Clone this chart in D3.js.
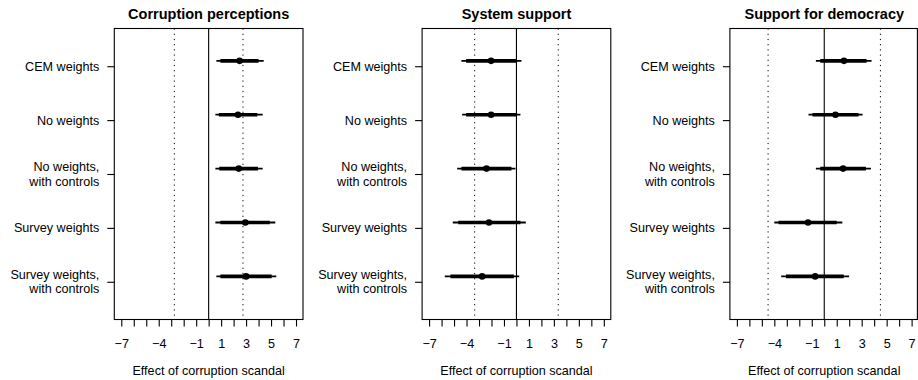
<!DOCTYPE html>
<html>
<head>
<meta charset="utf-8">
<script src="https://cdn.jsdelivr.net/npm/d3@7"></script>
<style>
  html, body { margin: 0; padding: 0; background: #fff; }
  svg { display: block; font-family: "Liberation Sans", Arial, Helvetica, sans-serif; }
</style>
</head>
<body>
<svg id="chart" width="918" height="380"></svg>
<script>
// ---- data ----
const categories = ["CEM weights", "No weights", "No weights,\nwith controls", "Survey weights", "Survey weights,\nwith controls"];
const panelTitles = ["Corruption perceptions", "System support", "Support for democracy"];
const refLines = [2.75, 3.35, 4.5];            // dotted reference lines at ± value
const xTicks = [-7, -6, -5, -4, -3, -2, -1, 0, 1, 2, 3, 4, 5, 6, 7];
const xTickLabels = [-7, -4, -1, 1, 3, 5, 7];
const xAxisTitle = "Effect of corruption scandal";

const corruptionEst  = [2.48, 2.35, 2.41, 2.94, 3.00];
const corruptionLo90 = [0.94, 0.82, 0.85, 0.94, 0.94];
const corruptionHi90 = [4.00, 3.90, 3.95, 4.90, 5.05];
const corruptionLo95 = [0.62, 0.54, 0.54, 0.54, 0.62];
const corruptionHi95 = [4.41, 4.33, 4.33, 5.34, 5.42];

const systemEst  = [-2.03, -2.03, -2.40, -2.20, -2.75];
const systemLo90 = [-4.03, -4.03, -4.41, -4.67, -5.29];
const systemHi90 = [0.00, 0.00, -0.40, 0.32, -0.21];
const systemLo95 = [-4.41, -4.35, -4.75, -5.10, -5.74];
const systemHi95 = [0.40, 0.32, -0.08, 0.75, 0.22];

const democracyEst  = [1.58, 0.90, 1.51, -1.30, -0.73];
const democracyLo90 = [-0.32, -0.94, -0.32, -3.66, -3.07];
const democracyHi90 = [3.39, 2.75, 3.34, 1.00, 1.56];
const democracyLo95 = [-0.67, -1.26, -0.67, -4.00, -3.45];
const democracyHi95 = [3.79, 3.07, 3.74, 1.45, 1.99];

const panels = [
  { title: panelTitles[0], ref: refLines[0], est: corruptionEst, lo90: corruptionLo90, hi90: corruptionHi90, lo95: corruptionLo95, hi95: corruptionHi95 },
  { title: panelTitles[1], ref: refLines[1], est: systemEst, lo90: systemLo90, hi90: systemHi90, lo95: systemLo95, hi95: systemHi95 },
  { title: panelTitles[2], ref: refLines[2], est: democracyEst, lo90: democracyLo90, hi90: democracyHi90, lo95: democracyLo95, hi95: democracyHi95 }
];

// ---- layout ----
const W = 918, H = 380;
const boxTop = 28.5, boxBottom = 319.5;
const boxW = 188.7, firstLeft = 114.3, panelStep = 307.8;
const markOffset = 0.1;   // estimates drawn slightly above the row tick
const fontSize = 12.6;

const svg = d3.select("#chart");

const y = d3.scaleLinear().domain([0.3, 5.7]).range([boxTop, boxBottom]);

panels.forEach((p, pi) => {
  const left = firstLeft + pi * panelStep;
  const x = d3.scaleLinear().domain([-7.56, 7.56]).range([left, left + boxW]);
  const g = svg.append("g");

  // title
  g.append("text")
    .attr("x", left + boxW / 2).attr("y", 19)
    .attr("text-anchor", "middle")
    .attr("font-weight", "bold").attr("font-size", 14.5)
    .text(p.title);

  // reference lines
  [-p.ref, p.ref].forEach(v => {
    g.append("line")
      .attr("x1", x(v)).attr("x2", x(v))
      .attr("y1", boxTop).attr("y2", boxBottom)
      .attr("stroke", "#000").attr("stroke-width", 1)
      .attr("stroke-dasharray", "1.2,4");
  });
  g.append("line")
    .attr("x1", x(0)).attr("x2", x(0))
    .attr("y1", boxTop).attr("y2", boxBottom)
    .attr("stroke", "#000").attr("stroke-width", 1.1);

  const rows = categories.map((c, i) => ({
    row: i + 1, est: p.est[i], lo90: p.lo90[i], hi90: p.hi90[i], lo95: p.lo95[i], hi95: p.hi95[i]
  }));

  // 95% intervals (thin)
  g.selectAll(".ci95").data(rows).join("line")
    .attr("x1", d => x(d.lo95)).attr("x2", d => x(d.hi95))
    .attr("y1", d => y(d.row - markOffset)).attr("y2", d => y(d.row - markOffset))
    .attr("stroke", "#000").attr("stroke-width", 1.8);
  // 90% intervals (thick)
  g.selectAll(".ci90").data(rows).join("line")
    .attr("x1", d => x(d.lo90)).attr("x2", d => x(d.hi90))
    .attr("y1", d => y(d.row - markOffset)).attr("y2", d => y(d.row - markOffset))
    .attr("stroke", "#000").attr("stroke-width", 3.6);
  // point estimates
  g.selectAll(".pt").data(rows).join("circle")
    .attr("cx", d => x(d.est)).attr("cy", d => y(d.row - markOffset))
    .attr("r", 3.3).attr("fill", "#000");

  // box
  const rightEdge = Math.min(left + boxW, W - 0.6);
  g.append("rect")
    .attr("x", left).attr("y", boxTop)
    .attr("width", rightEdge - left).attr("height", boxBottom - boxTop)
    .attr("fill", "none").attr("stroke", "#000").attr("stroke-width", 1.1);

  // x axis
  const xAxis = d3.axisBottom(x)
    .tickValues(xTicks)
    .tickSize(7).tickSizeOuter(0)
    .tickFormat(v => xTickLabels.includes(v) ? (v < 0 ? "\u2212" + Math.abs(v) : String(v)) : "");
  const ax = g.append("g").attr("transform", `translate(0,${boxBottom})`).call(xAxis);
  ax.select(".domain").remove();
  ax.selectAll(".tick line").attr("stroke", "#000").attr("stroke-width", 1.1);
  ax.selectAll(".tick text")
    .attr("y", 28.5).attr("dy", 0)
    .attr("font-size", fontSize).attr("font-family", null).attr("fill", "#000");
  ax.attr("font-family", null).attr("font-size", null);

  // x axis title
  g.append("text")
    .attr("x", left + boxW / 2).attr("y", 375)
    .attr("text-anchor", "middle").attr("font-size", fontSize)
    .text(xAxisTitle);

  // y axis
  const yAxis = d3.axisLeft(y)
    .tickValues(categories.map((c, i) => i + 1))
    .tickSize(7).tickSizeOuter(0)
    .tickFormat("");
  const ay = g.append("g").attr("transform", `translate(${left},0)`).call(yAxis);
  ay.select(".domain").remove();
  ay.selectAll(".tick line").attr("stroke", "#000").attr("stroke-width", 1.1);

  categories.forEach((c, i) => {
    const lines = c.split("\n");
    const yc = y(i + 1);
    const t = g.append("text")
      .attr("text-anchor", "end").attr("font-size", fontSize);
    if (lines.length === 1) {
      t.attr("x", left - 15).attr("y", yc + 4.4).text(lines[0]);
    } else {
      lines.forEach((ln, li) => {
        t.append("tspan")
          .attr("x", left - 15)
          .attr("y", yc - 2.7 + li * 14.3)
          .text(ln);
      });
    }
  });
});
</script>
</body>
</html>
